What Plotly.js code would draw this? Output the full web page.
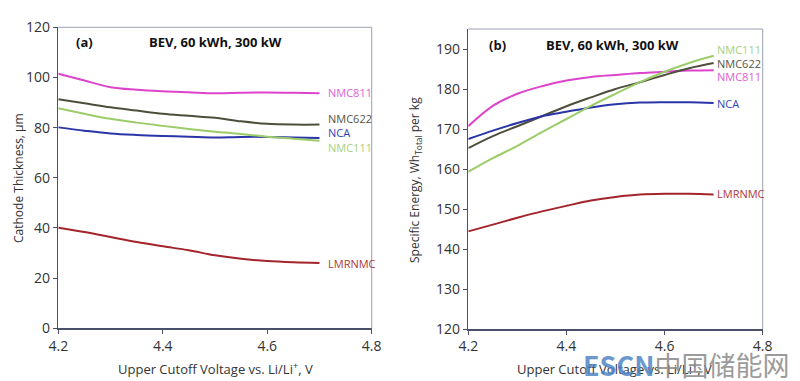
<!DOCTYPE html>
<html><head><meta charset="utf-8">
<script src="https://cdn.plot.ly/plotly-3.0.1.min.js"></script>
<style>html,body{margin:0;padding:0;background:#fff;}#c{width:800px;height:381px;}</style>
</head><body><div id="c"></div>
<script>
const voltage = [4.2,4.25,4.3,4.35,4.4,4.45,4.5,4.55,4.6,4.65,4.7];
const seriesNames = ['NMC811','NMC622','NCA','NMC111','LMRNMC'];
// (a) cathode thickness, µm
const thickNMC811 = [101.5,98.8,96.1,95.1,94.5,94.1,93.7,93.9,94.0,93.9,93.7];
const thickNMC622 = [91.3,89.7,88.1,86.8,85.5,84.7,83.9,82.5,81.5,81.2,81.2];
const thickNCA    = [80.1,78.8,77.7,77.1,76.7,76.4,76.1,76.3,76.3,76.1,75.9];
const thickNMC111 = [87.7,85.5,83.5,82.0,80.7,79.5,78.4,77.5,76.4,75.6,74.8];
const thickLMRNMC = [40.1,38.4,36.4,34.4,32.7,31.1,29.1,27.7,26.8,26.3,26.0];
// (b) specific energy, Wh_Total per kg
const energyNMC811 = [170.7,175.8,178.8,180.7,182.1,183.0,183.5,184.0,184.3,184.6,184.7];
const energyNMC622 = [165.2,168.2,170.7,173.2,175.7,177.9,180.0,181.7,183.5,185.2,186.5];
const energyNCA    = [167.5,169.6,171.5,173.2,174.3,175.4,176.2,176.6,176.7,176.7,176.5];
const energyNMC111 = [159.3,162.7,165.8,169.2,172.5,175.8,178.8,181.7,184.3,186.5,188.3];
const energyLMRNMC = [144.4,146.1,147.8,149.4,150.8,152.1,153.0,153.6,153.8,153.8,153.6];
const xTicks = [4.2,4.4,4.6,4.8];
const yTicksA = [0,20,40,60,80,100,120];
const yTicksB = [120,130,140,150,160,170,180,190];
const labelPosA = {NMC811:94, NMC622:83.7, NCA:78, NMC111:72, LMRNMC:26};
const labelPosB = {NMC111:190, NMC622:186.5, NMC811:183.2, NCA:176.3, LMRNMC:154};

const colors = {NMC811:'#dd44cc', NMC622:'#4e4e3c', NCA:'#2a35a8', NMC111:'#9ccc6a', LMRNMC:'#a3242a'};
const labelColors = {NMC811:'#e060d4', NMC622:'#555548', NCA:'#3344bb', NMC111:'#a8d080', LMRNMC:'#b03838'};
const dataA = {NMC811:thickNMC811, NMC622:thickNMC622, NCA:thickNCA, NMC111:thickNMC111, LMRNMC:thickLMRNMC};
const dataB = {NMC811:energyNMC811, NMC622:energyNMC622, NCA:energyNCA, NMC111:energyNMC111, LMRNMC:energyLMRNMC};

const W=800, H=381;
const px = v => v/W, py = v => 1 - v/H;
const FONT = '"Open Sans", "Liberation Sans", sans-serif';

const traces = [];
seriesNames.forEach(n => {
  traces.push({x:voltage, y:dataA[n], xaxis:'x', yaxis:'y', mode:'lines', name:n,
    line:{color:colors[n], width:2, shape:'spline', smoothing:1}, showlegend:false, hoverinfo:'skip'});
  traces.push({x:voltage, y:dataB[n], xaxis:'x2', yaxis:'y2', mode:'lines', name:n,
    line:{color:colors[n], width:2, shape:'spline', smoothing:1}, showlegend:false, hoverinfo:'skip'});
});

const axisCommon = {showgrid:false, zeroline:false, showline:true, linecolor:'#4a5068', linewidth:1.5,
  ticks:'outside', ticklen:4, tickcolor:'#4a5068', tickfont:{family:FONT, size:14, color:'#333'}, automargin:false};

const annotations = [];
seriesNames.forEach(n => {
  annotations.push({xref:'x', yref:'y', x:4.713, y:labelPosA[n], text:n, showarrow:false, xanchor:'left', yanchor:'middle',
    font:{family:FONT, size:11, color:labelColors[n]}});
  annotations.push({xref:'x2', yref:'y2', x:4.703, y:labelPosB[n], text:n, showarrow:false, xanchor:'left', yanchor:'middle',
    font:{family:FONT, size:11, color:labelColors[n]}});
});
const bold = {family:FONT, size:13, color:'#111'};
function pa(x, y, text, font, extra) {
  return Object.assign({xref:'paper', yref:'paper', x:px(x), y:py(y), text:text, showarrow:false,
    xanchor:'center', yanchor:'middle', font:font}, extra || {});
}
annotations.push(
  pa(84, 42, '<b>(a)</b>', bold),
  pa(215, 42, '<b>BEV, 60 kWh, 300 kW</b>', bold),
  pa(497, 45, '<b>(b)</b>', bold),
  pa(612, 45, '<b>BEV, 60 kWh, 300 kW</b>', bold),
  pa(18, 178, 'Cathode Thickness, µm', {family:FONT, size:12, color:'#333'}, {textangle:-90}),
  pa(415, 180, 'Specific Energy, Wh<sub>Total</sub> per kg', {family:FONT, size:12, color:'#333'}, {textangle:-90}),
  pa(215, 368, 'Upper Cutoff Voltage vs. Li/Li<sup>+</sup>, V', {family:FONT, size:13, color:'#333'}),
  pa(614, 368, 'Upper Cutoff Voltage vs. Li/Li<sup>+</sup>, V', {family:FONT, size:13, color:'#333'}),
  pa(791, 364, '<span style="color:#4f86c6"><b>ESCN</b></span><span style="color:#8a8a8a">中国储能网</span>',
    {family:'"Noto Sans CJK SC", "Open Sans", sans-serif', size:27}, {xanchor:'right', opacity:0.85})
);

const layout = {
  width:W, height:H, margin:{l:0, r:0, t:0, b:0}, paper_bgcolor:'#fff', plot_bgcolor:'#fff', showlegend:false,
  xaxis:Object.assign({}, axisCommon, {domain:[px(58.3), px(371.7)], range:[4.2,4.8], tickvals:xTicks, ticktext:xTicks.map(v=>v.toFixed(1)), anchor:'y'}),
  yaxis:Object.assign({}, axisCommon, {domain:[py(328.3), py(27.3)], range:[0,120], tickvals:yTicksA, anchor:'x'}),
  xaxis2:Object.assign({}, axisCommon, {domain:[px(468.3), px(762.7)], range:[4.2,4.8], tickvals:xTicks, ticktext:xTicks.map(v=>v.toFixed(1)), anchor:'y2'}),
  yaxis2:Object.assign({}, axisCommon, {domain:[py(329), py(29)], range:[120,195], tickvals:yTicksB, anchor:'x2'}),
  annotations:annotations,
  shapes:[
    {type:'line', xref:'x domain', yref:'y domain', x0:0, x1:1, y0:1, y1:1, line:{color:'#9aa0b0', width:1}},
    {type:'line', xref:'x domain', yref:'y domain', x0:1, x1:1, y0:0, y1:1, line:{color:'#9aa0b0', width:1}},
    {type:'line', xref:'x2 domain', yref:'y2 domain', x0:0, x1:1, y0:1, y1:1, line:{color:'#9aa0b0', width:1}},
    {type:'line', xref:'x2 domain', yref:'y2 domain', x0:1, x1:1, y0:0, y1:1, line:{color:'#9aa0b0', width:1}}
  ]
};
Plotly.newPlot('c', traces, layout, {staticPlot:true, displayModeBar:false});
</script></body></html>
